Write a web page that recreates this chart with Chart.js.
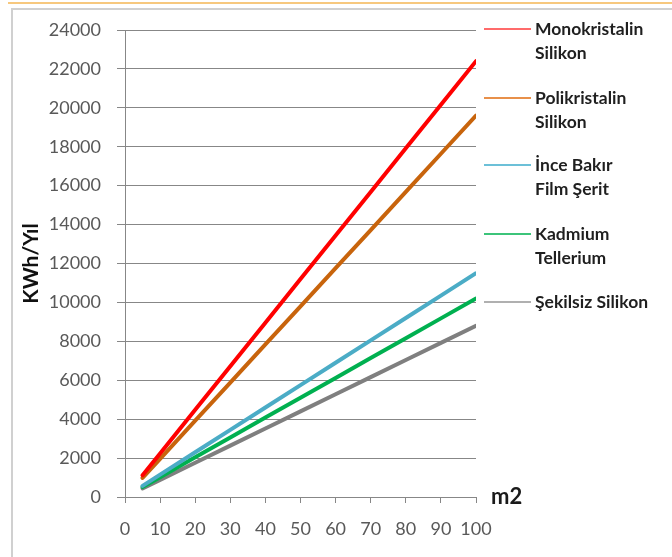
<!DOCTYPE html>
<html>
<head>
<meta charset="utf-8">
<script src="https://cdn.jsdelivr.net/npm/chart.js@4"></script>
<style>
  html, body { margin: 0; padding: 0; background: #fff; }
  #wrap { width: 672px; height: 557px; }
</style>
</head>
<body>
<div id="wrap"><canvas id="solarChart" width="672" height="557"></canvas></div>
<script>
// --- Data ---
const area = [5, 10, 20, 30, 40, 50, 60, 70, 80, 90, 100];
const monokristalin = [1120, 2240, 4480, 6720, 8960, 11200, 13440, 15680, 17920, 20160, 22400];
const polikristalin = [980, 1960, 3920, 5880, 7840, 9800, 11760, 13720, 15680, 17640, 19600];
const inceBakir = [575, 1150, 2300, 3450, 4600, 5750, 6900, 8050, 9200, 10350, 11500];
const kadmium = [510, 1020, 2040, 3060, 4080, 5100, 6120, 7140, 8160, 9180, 10200];
const sekilsiz = [440, 880, 1760, 2640, 3520, 4400, 5280, 6160, 7040, 7920, 8800];

const seriesNames = [
  ["Monokristalin", "Silikon"],
  ["Polikristalin", "Silikon"],
  ["İnce Bakır", "Film Şerit"],
  ["Kadmium", "Tellerium"],
  ["Şekilsiz Silikon"]
];
const seriesColors = ["#ff0000", "#c8640c", "#4bacc6", "#00b050", "#7f7f7f"];
const legendColors = ["#ff6b6b", "#e8904a", "#6cc0d8", "#3cc47a", "#b0b0b0"];

function toPoints(values) {
  return area.map((a, i) => ({ x: a, y: values[i] }));
}

// --- Extra drawing: frame, legend, axis captions ---
const decorPlugin = {
  id: "decor",
  beforeDraw(chart) {
    const ctx = chart.ctx;
    ctx.save();
    // orange top strip and gray frame
    ctx.strokeStyle = "#f7c87e";
    ctx.lineWidth = 2;
    ctx.beginPath();
    ctx.moveTo(8, 3);
    ctx.lineTo(672, 3);
    ctx.stroke();
    ctx.strokeStyle = "#d0d0d0";
    ctx.lineWidth = 2;
    ctx.beginPath();
    ctx.moveTo(12, 557);
    ctx.lineTo(12, 9);
    ctx.lineTo(672, 9);
    ctx.stroke();
    ctx.restore();
  },
  afterDraw(chart) {
    const ctx = chart.ctx;
    const box = chart.chartArea;
    ctx.save();

    // x axis caption
    ctx.fillStyle = "#1a1a1a";
    ctx.font = "bold 22px Lato";
    ctx.textBaseline = "middle";
    ctx.textAlign = "left";
    ctx.fillText("m2", box.right + 15, box.bottom);

    // legend
    const legendTops = [29, 98, 165, 234, 302];
    ctx.font = "bold 17.5px Lato";
    chart.data.datasets.forEach((ds, i) => {
      const y = legendTops[i];
      ctx.strokeStyle = legendColors[i];
      ctx.lineWidth = 2;
      ctx.beginPath();
      ctx.moveTo(484, y);
      ctx.lineTo(531, y);
      ctx.stroke();
      ctx.fillStyle = "#1f1f1f";
      seriesNames[i].forEach((line, j) => {
        ctx.fillText(line, 535, y + j * 24);
      });
    });
    ctx.restore();
  }
};

const ctx = document.getElementById("solarChart").getContext("2d");
const chart = new Chart(ctx, {
  type: "line",
  data: {
    datasets: [monokristalin, polikristalin, inceBakir, kadmium, sekilsiz].map((vals, i) => ({
      label: seriesNames[i].join(" "),
      data: toPoints(vals),
      borderColor: seriesColors[i],
      backgroundColor: seriesColors[i],
      borderWidth: 4,
      pointRadius: 0,
      tension: 0,
      borderCapStyle: "round"
    }))
  },
  options: {
    responsive: false,
    animation: false,
    devicePixelRatio: 1,
    layout: { padding: { top: 30, right: 196, left: 0, bottom: 0 } },
    plugins: {
      legend: { display: false },
      tooltip: { enabled: false }
    },
    scales: {
      x: {
        type: "linear",
        min: 0,
        max: 100,
        ticks: {
          stepSize: 10,
          color: "#595959",
          font: { family: "Lato", size: 18 },
          padding: 15,
          maxRotation: 0
        },
        grid: { display: true, drawOnChartArea: false, color: "#878787", tickLength: 6 },
        border: { color: "#878787", width: 1 },
        afterFit(scale) { scale.height = 60; }
      },
      y: {
        min: 0,
        max: 24000,
        ticks: {
          stepSize: 2000,
          color: "#595959",
          font: { family: "Lato", size: 18 },
          padding: 16,
          callback: (value) => String(value)
        },
        grid: { color: "#878787", lineWidth: 1, tickLength: 8 },
        border: { color: "#878787", width: 1 },
        title: {
          display: true,
          text: "KWh/Yıl",
          color: "#111",
          font: { family: "Lato", size: 21, weight: "bold" },
          padding: { top: 19, bottom: 0 }
        },
        afterFit(scale) { scale.width = 125; }
      }
    }
  },
  plugins: [decorPlugin]
});
</script>
</body>
</html>
